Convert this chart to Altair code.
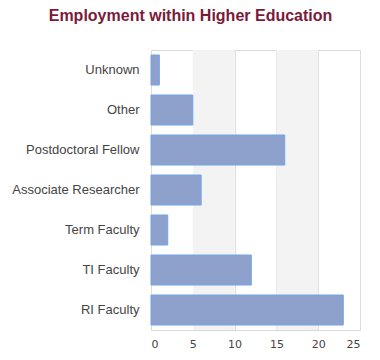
import altair as alt
import pandas as pd

categories = ["Unknown", "Other", "Postdoctoral Fellow", "Associate Researcher",
              "Term Faculty", "TI Faculty", "RI Faculty"]
counts = [1, 5, 16, 6, 2, 12, 23]
band_starts = [5, 15]
band_ends = [10, 20]

df = pd.DataFrame({"cat": categories, "n": counts})
bands = pd.DataFrame({"a": band_starts, "b": band_ends})

xscale = alt.Scale(domain=[0, 25], nice=False)

band_layer = alt.Chart(bands).mark_rect(color="#f3f3f3").encode(
    x=alt.X("a:Q", scale=xscale),
    x2="b:Q",
    y=alt.value(0),
    y2=alt.value(280),
)

bars = alt.Chart(df).mark_bar(color="#8da1cc", stroke="#6fa6e6", strokeWidth=1).encode(
    x=alt.X("n:Q", scale=xscale, title=None,
            axis=alt.Axis(values=[0, 5, 10, 15, 20, 25], grid=True, gridColor="#dddddd",
                          domain=False, ticks=False, labelFont="DejaVu Sans",
                          labelFontSize=11, labelColor="#444444", labelPadding=8)),
    y=alt.Y("cat:N", sort=categories, title=None,
            scale=alt.Scale(paddingInner=0.25, paddingOuter=0.125),
            axis=alt.Axis(domain=False, ticks=False, labelFont="Liberation Sans",
                          labelFontSize=13, labelColor="#444444", labelPadding=12)),
)

chart = alt.layer(band_layer, bars).properties(
    width=209, height=280,
    autosize=alt.AutoSizeParams(type="none"),
    padding={"left": 143, "top": 42, "right": 12, "bottom": 22},
    title=alt.TitleParams("Employment within Higher Education", font="Liberation Sans",
                          fontSize=16, fontWeight="bold", color="#7a1a3a",
                          anchor="middle", dx=-65, offset=26),
).configure_view(stroke="#d9d9d9")

chart.save("out.html", embed_options={"renderer": "svg", "actions": False})
